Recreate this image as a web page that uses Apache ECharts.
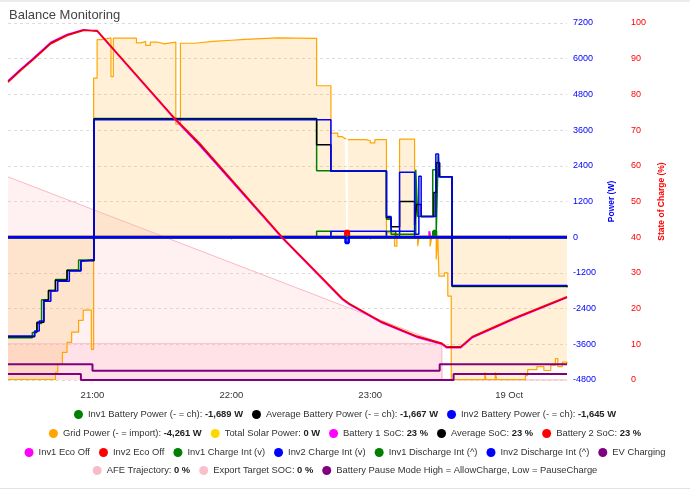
<!DOCTYPE html>
<html>
<head>
<meta charset="utf-8">
<title>Balance Monitoring</title>
<script src="https://cdn.jsdelivr.net/npm/echarts@6/dist/echarts.min.js"></script>
<style>
  html, body { margin: 0; padding: 0; background: #fff; }
  #chart { width: 690px; height: 492px; }
</style>
</head>
<body>
<div id="chart"></div>
<script>
// clock times on the evening of 18 Oct, hours before noon fall on 19 Oct
const axisStart = '20:23:30';
const axisEnd = '00:25';

const powerMin = -4800, powerMax = 7200, powerStep = 1200;
const socMin = 0, socMax = 100, socStep = 10;

// power series (W)
const inv1Power = [
  ['20:23:30', -3380], ['20:34', -3200], ['20:36', -2900], ['20:38', -2100], ['20:41', -1780],
  ['20:44', -1420], ['20:49', -1100], ['20:54', -770], ['21:00:40', 3990], ['22:36:50', 2230],
  ['23:07', 600], ['23:09', 100], ['23:19:40', 2270], ['23:20:30', 700], ['23:27', 2270],
  ['23:28:30', 100], ['23:29:20', 2750], ['23:30', 2030], ['23:35:20', -1660], ['00:25', -1689]
];
const avgPower = [
  ['20:23:30', -3350], ['20:35', -3180], ['20:36', -2860], ['20:39', -2120], ['20:41', -1800],
  ['20:44', -1450], ['20:49', -1120], ['20:55', -790], ['21:00:40', 3970], ['22:36:50', 3110],
  ['22:43', 2220], ['23:07', 650], ['23:09', 350], ['23:12:40', 1200], ['23:19:10', 400],
  ['23:20', 1100], ['23:22', 700], ['23:27:30', 1500], ['23:28:30', 2500], ['23:30', 2030],
  ['23:35:20', -1640], ['00:25', -1667]
];
const inv2Power = [
  ['20:23:30', -3320], ['20:35', -3150], ['20:37', -2820], ['20:39', -2150], ['20:42', -1810],
  ['20:45', -1480], ['20:50', -1140], ['20:55', -800], ['20:56', -760], ['21:00:40', 3950],
  ['22:43', 2215], ['23:07', 700], ['23:09', 200], ['23:12:40', 2180], ['23:19:10', 100],
  ['23:21', 2050], ['23:22', 700], ['23:28:20', 2800], ['23:29:30', 2030], ['23:35:20', -1620],
  ['00:25', -1645]
];
const gridPower = [
  ['20:23:30', -4790], ['20:44', -4540], ['20:45', -4270], ['20:47', -3870], ['20:49', -3535],
  ['20:51', -3190], ['20:54', -2795], ['20:56', -2450], ['20:59:30', -3770], ['21:00:30', 5350],
  ['21:02', 6640], ['21:04', 6700], ['21:08', 5400], ['21:09', 6690], ['21:19', 6530],
  ['21:21', 6580], ['21:23', 6450], ['21:25', 6560], ['21:28', 6500], ['21:31', 6560],
  ['21:36', 3800], ['21:38', 6520], ['21:44', 6580], ['21:52', 6620], ['22:00', 6650],
  ['22:06', 6700], ['22:20', 6680], ['22:36:50', 5090], ['22:43', 3500], ['22:46', 3380],
  ['22:48', 3320], ['22:49', 3300], ['22:49:40', null], ['22:50:20', 3280], ['22:58', 3250],
  ['23:00', 3170], ['23:02', 3280], ['23:07', 150], ['23:10:30', -300], ['23:11:30', 80],
  ['23:12:40', 3300], ['23:19:10', 20], ['23:20:30', -300], ['23:21:10', 30], ['23:25:50', -310],
  ['23:26:40', 30], ['23:28:30', -750], ['23:29:10', 40], ['23:29:40', -1310], ['23:32', -1200],
  ['23:33:30', -1980], ['23:35', -4790], ['23:49:30', -4540], ['23:50', -4790], ['23:54', -4540],
  ['23:54:40', -4790], ['00:07', -4650], ['00:08', -4450], ['00:12', -4350], ['00:15', -4480],
  ['00:18', -4300], ['00:20', -4080], ['00:21', -4350], ['00:23', -4200], ['00:25', -4261]
];
const solarPower = [['20:23:30', 0], ['00:25', 0]];

// on/off indicators drawn on the power axis
const inv1EcoOff = [['20:23:30', 0], ['23:25:30', 200], ['23:26', 0], ['00:25', 0]];
const inv2EcoOff = [['20:23:30', 0], ['22:49:20', 200], ['22:50:40', 0], ['00:25', 0]];
const inv1ChargeInt = [['20:23:30', 0], ['22:36:50', 200], ['22:43', 0], ['23:07', 200], ['23:11', 0], ['00:25', 0]];
const inv2ChargeInt = [['20:23:30', 0], ['22:43', 200], ['23:07', 0], ['23:12:40', 200], ['23:19:10', 0], ['00:25', 0]];
const inv1DischargeInt = [['20:23:30', 0], ['23:27:20', 200], ['23:28:20', 0], ['00:25', 0]];
const inv2DischargeInt = [['20:23:30', 0], ['22:49:20', -190], ['22:50:40', 0], ['00:25', 0]];

// state of charge (%)
const soc1 = [
  ['20:23:30', 83.8], ['20:29', 87.1], ['20:34', 89.9], ['20:42', 94.6], ['20:49', 96.8],
  ['20:56', 98.1], ['21:02', 97.7], ['21:36', 72.7], ['21:46', 65.9], ['22:22', 39.7],
  ['22:48', 22.5], ['22:51', 21.1], ['23:05', 16.0], ['23:20', 12.0], ['23:31', 10.0],
  ['23:33', 9.0], ['23:39', 9.0], ['23:44', 11.8], ['00:02', 17.0], ['00:25', 23.1]
];
const socAvg = [
  ['20:23:30', 83.6], ['20:29', 86.9], ['20:34', 89.7], ['20:42', 94.4], ['20:49', 96.6],
  ['20:56', 98.0], ['21:02', 97.8], ['21:36', 72.9], ['21:46', 66.2], ['22:22', 39.9],
  ['22:48', 22.7], ['22:51', 21.3], ['23:05', 16.2], ['23:20', 12.2], ['23:31', 10.2],
  ['23:33', 9.2], ['23:39', 9.2], ['23:44', 12.0], ['00:02', 17.2], ['00:25', 23.2]
];
const soc2 = [
  ['20:23:30', 83.4], ['20:29', 86.7], ['20:34', 89.5], ['20:42', 94.2], ['20:49', 96.5],
  ['20:56', 97.9], ['21:02', 97.9], ['21:36', 73.0], ['21:46', 66.5], ['22:22', 40.0],
  ['22:48', 22.8], ['22:51', 21.4], ['23:05', 16.3], ['23:20', 12.3], ['23:31', 10.3],
  ['23:33', 9.3], ['23:39', 9.3], ['23:44', 12.1], ['00:02', 17.3], ['00:25', 23.3]
];
const afeTrajectory = [['20:23:30', 56.9], ['23:30:50', 10.2], ['23:31', 0], ['00:25', 0]];
const exportTarget = [['20:23:30', 10.2], ['23:30:50', 10.2], ['23:31', 0], ['00:25', 0]];
const evCharging = [['20:23:30', 4.4], ['21:00', 2.6], ['23:30', 4.4], ['00:25', 4.4]];
const pauseMode = [['20:23:30', 1.7], ['20:55', 0], ['23:36', 1.7], ['00:25', 1.7]];

// legend rows and the live values shown after the names
const legendRows = [
  ['Inv1 Battery Power (- = ch)', 'Average Battery Power (- = ch)', 'Inv2 Battery Power (- = ch)'],
  ['Grid Power (- = import)', 'Total Solar Power', 'Battery 1 SoC', 'Average SoC', 'Battery 2 SoC'],
  ['Inv1 Eco Off', 'Inv2 Eco Off', 'Inv1 Charge Int (v)', 'Inv2 Charge Int (v)', 'Inv1 Discharge Int (^)', 'Inv2 Discharge Int (^)', 'EV Charging'],
  ['AFE Trajectory', 'Export Target SOC', 'Battery Pause Mode High = AllowCharge, Low = PauseCharge']
];
const legendValues = {
  'Inv1 Battery Power (- = ch)': '-1,689 W',
  'Average Battery Power (- = ch)': '-1,667 W',
  'Inv2 Battery Power (- = ch)': '-1,645 W',
  'Grid Power (- = import)': '-4,261 W',
  'Total Solar Power': '0 W',
  'Battery 1 SoC': '23 %',
  'Average SoC': '23 %',
  'Battery 2 SoC': '23 %',
  'AFE Trajectory': '0 %',
  'Export Target SOC': '0 %'
};
const legendTops = [405, 424, 443, 461];

const MONTHS = ['Jan', 'Feb', 'Mar', 'Apr', 'May', 'Jun', 'Jul', 'Aug', 'Sep', 'Oct', 'Nov', 'Dec'];
const FONT = '"Liberation Sans", Arial, Helvetica, sans-serif';

function toTime(hms) {
  const p = hms.split(':').map(Number);
  const day = p[0] < 12 ? 19 : 18;
  return new Date(2023, 9, day, p[0], p[1], p[2] || 0).getTime();
}

function pts(list) {
  return list.map(d => [toTime(d[0]), d[1]]);
}

function line(name, color, data, extra) {
  return Object.assign({
    name: name,
    type: 'line',
    data: pts(data),
    showSymbol: false,
    symbol: 'none',
    color: color,
    lineStyle: { width: 1.5, color: color },
    itemStyle: { color: color },
    emphasis: { disabled: true },
    animation: false
  }, extra || {});
}

const chart = echarts.init(document.getElementById('chart'));

const series = [
  line('AFE Trajectory', '#f7bcc6', afeTrajectory, {
    yAxisIndex: 1, lineStyle: { width: 1, color: '#f9b9c4' },
    areaStyle: { color: 'rgba(255,182,193,0.3)' }
  }),
  line('Export Target SOC', '#f9c0cb', exportTarget, {
    yAxisIndex: 1, lineStyle: { width: 1, color: '#fac3cc' },
    areaStyle: { color: 'rgba(255,182,193,0.35)' }
  }),
  line('Grid Power (- = import)', '#ffa500', gridPower, {
    step: 'end', lineStyle: { width: 1.2, color: '#ffa500' },
    areaStyle: { color: 'rgba(255,168,20,0.24)' }
  }),
  line('Total Solar Power', '#ffd700', solarPower),
  line('Inv1 Charge Int (v)', '#008000', inv1ChargeInt, { step: 'end' }),
  line('Inv2 Charge Int (v)', '#0000ff', inv2ChargeInt, { step: 'end' }),
  line('Inv1 Eco Off', '#ff00ff', inv1EcoOff, { step: 'end', lineStyle: { width: 2, color: '#ff00ff' } }),
  line('Inv2 Eco Off', '#ff0000', inv2EcoOff, { step: 'end', lineStyle: { width: 3, color: '#ff0000', cap: 'butt' } }),
  line('Inv1 Discharge Int (^)', '#008000', inv1DischargeInt, { step: 'end', lineStyle: { width: 3, color: '#008000' } }),
  line('Inv1 Battery Power (- = ch)', '#008000', inv1Power, { step: 'end' }),
  line('Average Battery Power (- = ch)', '#000000', avgPower, { step: 'end' }),
  line('Inv2 Battery Power (- = ch)', '#0000ff', inv2Power, { step: 'end' }),
  line('Inv2 Discharge Int (^)', '#0000ff', inv2DischargeInt, { step: 'end', lineStyle: { width: 2.6, color: '#0000ff' } }),
  line('Battery 1 SoC', '#ff00ff', soc1, { yAxisIndex: 1 }),
  line('Average SoC', '#000000', socAvg, { yAxisIndex: 1, lineStyle: { width: 1, color: '#000000' } }),
  line('Battery 2 SoC', '#ff0000', soc2, { yAxisIndex: 1 }),
  line('EV Charging', '#800080', evCharging, { yAxisIndex: 1, step: 'end', clip: false, lineStyle: { width: 2, color: '#800080' } }),
  line('Battery Pause Mode High = AllowCharge, Low = PauseCharge', '#800080', pauseMode, {
    yAxisIndex: 1, step: 'end', clip: false, lineStyle: { width: 2, color: '#800080' }
  })
];

const legends = legendRows.map((row, i) => ({
  data: row,
  top: legendTops[i],
  left: 'center',
  padding: [5, 13, 5, 5],
  icon: 'circle',
  itemWidth: 9,
  itemHeight: 9,
  itemGap: 9,
  selectedMode: false,
  textStyle: {
    fontFamily: FONT, fontSize: 9.4, color: '#333',
    rich: {
      n: { fontFamily: FONT, fontSize: 9.4, color: '#333' },
      b: { fontFamily: FONT, fontSize: 9.4, color: '#222', fontWeight: 'bold' }
    }
  },
  formatter: name => legendValues[name] ? '{n|' + name + ': }{b|' + legendValues[name] + '}' : name
}));

chart.setOption({
  animation: false,
  textStyle: { fontFamily: FONT },
  title: {
    text: 'Balance Monitoring',
    left: 4,
    top: 4,
    textStyle: { fontFamily: FONT, fontSize: 13, fontWeight: 'normal', color: '#444' }
  },
  legend: legends,
  grid: { left: 8, right: 123, top: 23, bottom: 112 },
  xAxis: {
    type: 'time',
    min: toTime(axisStart),
    max: toTime(axisEnd),
    minInterval: 3600 * 1000,
    maxInterval: 3600 * 1000,
    axisLine: { show: false },
    axisTick: { show: true, length: 3, lineStyle: { color: '#ccc' } },
    splitLine: { show: false },
    axisLabel: {
      fontSize: 9.5,
      color: '#333',
      margin: 10,
      formatter: v => {
        const d = new Date(v);
        if (d.getHours() === 0 && d.getMinutes() === 0) return d.getDate() + ' ' + MONTHS[d.getMonth()];
        return String(d.getHours()).padStart(2, '0') + ':' + String(d.getMinutes()).padStart(2, '0');
      }
    }
  },
  yAxis: [
    {
      type: 'value',
      position: 'right',
      min: powerMin, max: powerMax, interval: powerStep,
      name: 'Power (W)',
      nameLocation: 'middle',
      nameGap: 28,
      nameTextStyle: { color: '#0000ff', fontWeight: 'bold', fontSize: 8.5 },
      axisLine: { show: false },
      axisTick: { show: false },
      axisLabel: { color: '#0000ff', fontSize: 9, margin: 6, formatter: v => String(v) },
      splitLine: { lineStyle: { type: [3, 3], color: '#dcdcdc' } }
    },
    {
      type: 'value',
      position: 'right',
      offset: 58,
      min: socMin, max: socMax, interval: socStep,
      name: 'State of Charge (%)',
      nameLocation: 'middle',
      nameGap: 20,
      nameTextStyle: { color: '#ff0000', fontWeight: 'bold', fontSize: 8.5 },
      axisLine: { show: false },
      axisTick: { show: false },
      axisLabel: { color: '#ff0000', fontSize: 9, margin: 6, formatter: v => String(v) },
      splitLine: { show: false }
    }
  ],
  graphic: [
    { type: 'rect', left: 0, top: 0, shape: { width: 690, height: 2 }, style: { fill: '#ececec' }, silent: true },
    { type: 'rect', left: 0, top: 488, shape: { width: 690, height: 1 }, style: { fill: '#e2e2e2' }, silent: true }
  ],
  series: series
});
</script>
</body>
</html>
